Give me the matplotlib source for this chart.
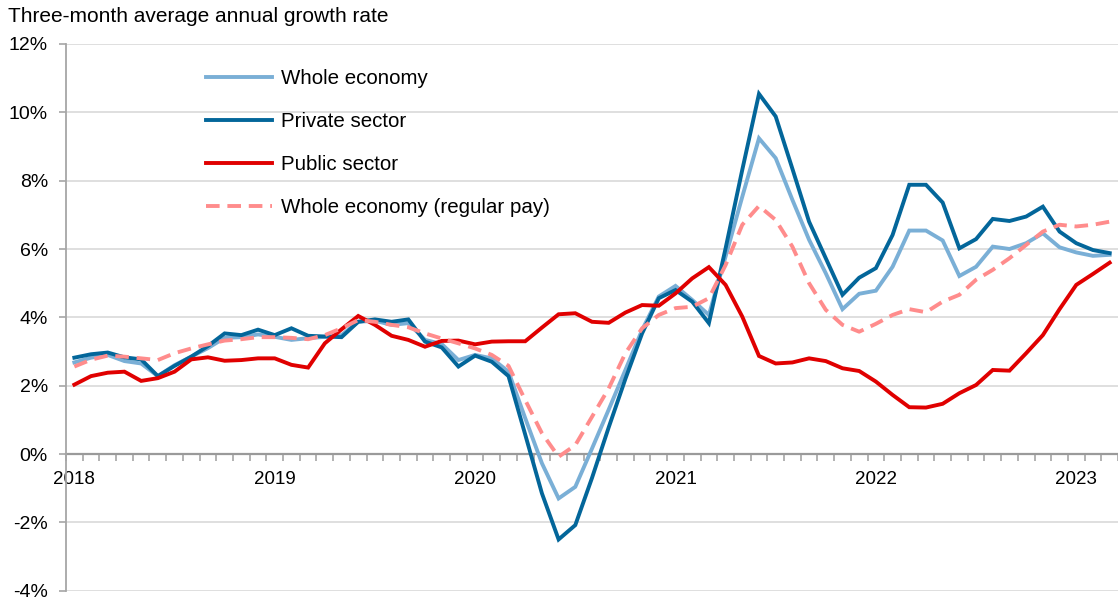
import matplotlib
matplotlib.use("Agg")
import matplotlib.pyplot as plt
import numpy as np

# ---- data (monthly, Jan 2018 - Mar 2023) ----
years = ["2018", "2019", "2020", "2021", "2022", "2023"]
n_months = 63

whole_economy = [2.68, 2.82, 2.90, 2.72, 2.65, 2.28, 2.60, 2.85, 3.10, 3.40, 3.42, 3.50,
                 3.43, 3.34, 3.39, 3.43, 3.48, 3.87, 3.90, 3.78, 3.83, 3.34, 3.22, 2.75,
                 2.90, 2.80, 2.41, 1.05, -0.27, -1.30, -0.96, 0.16, 1.30, 2.46, 3.63, 4.61,
                 4.92, 4.51, 4.07, 5.78, 7.53, 9.24, 8.66, 7.44, 6.27, 5.29, 4.24, 4.69,
                 4.78, 5.48, 6.54, 6.54, 6.25, 5.21, 5.48, 6.07, 6.00, 6.17, 6.46, 6.05,
                 5.90, 5.80, 5.83]

private_sector = [2.82, 2.92, 2.97, 2.83, 2.77, 2.28, 2.58, 2.85, 3.16, 3.53, 3.48, 3.64,
                  3.48, 3.68, 3.46, 3.44, 3.42, 3.87, 3.94, 3.87, 3.94, 3.29, 3.12, 2.56,
                  2.88, 2.70, 2.28, 0.57, -1.15, -2.50, -2.08, -0.70, 0.78, 2.20, 3.53, 4.56,
                  4.80, 4.46, 3.83, 6.02, 8.32, 10.54, 9.88, 8.35, 6.80, 5.73, 4.66, 5.16,
                  5.44, 6.41, 7.88, 7.88, 7.36, 6.02, 6.29, 6.88, 6.82, 6.95, 7.24, 6.51,
                  6.17, 5.97, 5.88]

public_sector = [2.03, 2.28, 2.38, 2.41, 2.14, 2.22, 2.41, 2.77, 2.83, 2.73, 2.75, 2.80,
                 2.80, 2.61, 2.53, 3.24, 3.65, 4.04, 3.78, 3.46, 3.34, 3.14, 3.31, 3.32,
                 3.21, 3.29, 3.30, 3.30, 3.70, 4.09, 4.12, 3.87, 3.84, 4.14, 4.36, 4.34,
                 4.70, 5.14, 5.47, 4.95, 4.02, 2.87, 2.65, 2.68, 2.80, 2.72, 2.51, 2.43,
                 2.12, 1.73, 1.37, 1.36, 1.47, 1.78, 2.02, 2.46, 2.44, 2.95, 3.48, 4.24,
                 4.95, 5.27, 5.60]

regular_pay = [2.56, 2.76, 2.88, 2.85, 2.80, 2.75, 2.95, 3.09, 3.21, 3.32, 3.36, 3.42,
               3.42, 3.40, 3.36, 3.48, 3.68, 3.92, 3.87, 3.78, 3.71, 3.53, 3.38, 3.24,
               3.09, 2.90, 2.58, 1.58, 0.61, -0.08, 0.26, 1.09, 1.92, 2.95, 3.68, 4.07,
               4.27, 4.31, 4.56, 5.53, 6.71, 7.26, 6.85, 6.07, 5.00, 4.22, 3.78, 3.58,
               3.81, 4.07, 4.24, 4.15, 4.46, 4.66, 5.10, 5.39, 5.73, 6.12, 6.51, 6.71,
               6.66, 6.71, 6.80]

y_ticks = [-4, -2, 0, 2, 4, 6, 8, 10, 12]
y_labels = ["-4%", "-2%", "0%", "2%", "4%", "6%", "8%", "10%", "12%"]

# ---- style ----
plt.rcParams['font.family'] = ['Liberation Sans', 'DejaVu Sans']
FS_X = 13.5
FS_Y = 14
FS_LEG = 14.8
FS_TITLE = 15
C_WHOLE = '#7AAFD6'
C_PRIV = '#03669A'
C_PUB = '#E00000'
C_REG = '#FF8C8C'

W, H = 1118, 598
fig = plt.figure(figsize=(W / 100, H / 100), dpi=100)
left_px, top_px, bottom_px = 66, 44, 590.7
month_px = 16.82
ax = fig.add_axes([left_px / W, (H - bottom_px) / H, (W - left_px) / W, (bottom_px - top_px) / H])

x = np.arange(n_months)
lw = 2.8
ax.plot(x, whole_economy, color=C_WHOLE, lw=lw, label='Whole economy', zorder=3, solid_joinstyle='miter')
ax.plot(x, private_sector, color=C_PRIV, lw=lw, label='Private sector', zorder=4, solid_joinstyle='miter')
ax.plot(x, public_sector, color=C_PUB, lw=lw, label='Public sector', zorder=5, solid_joinstyle='miter')
ax.plot(x, regular_pay, color=C_REG, lw=lw, ls=(0, (3.5, 2.0)), label='Whole economy (regular pay)', zorder=6)

ax.set_xlim(-0.5, -0.5 + (W - left_px) / month_px)
ax.set_ylim(-4, 12)

# gridlines
ax.set_yticks(y_ticks)
ax.set_yticklabels(y_labels, fontsize=FS_Y)
ax.yaxis.grid(True, color='#D9D9D9', lw=1.2, zorder=0)
ax.set_axisbelow(True)

# spines
for s in ['top', 'right']:
    ax.spines[s].set_visible(False)
ax.spines['left'].set_color('#A6A6A6')
ax.spines['left'].set_linewidth(1.3)
ax.spines['bottom'].set_position(('data', 0))
ax.spines['bottom'].set_color('#9A9A9A')
ax.spines['bottom'].set_linewidth(1.6)
ax.spines['bottom'].set_zorder(2)

ax.tick_params(axis='y', which='major', length=5, width=1.2, color='#A6A6A6', pad=8, labelsize=FS_Y)

# x ticks: month boundaries (major, no labels), year labels (minor, no tick marks)
ax.set_xticks(np.arange(0, n_months + 1) - 0.5)
ax.set_xticklabels([])
ax.tick_params(axis='x', which='major', direction='out', length=5, width=1.2, color='#A6A6A6')
jan_pos = [12 * i for i in range(len(years))]
ax.set_xticks(jan_pos, minor=True)
ax.set_xticklabels(years, minor=True, fontsize=FS_X)
ax.tick_params(axis='x', which='minor', length=0, pad=12)

# legend
leg = ax.legend(loc='upper left', bbox_to_anchor=((198 - left_px) / (W - left_px), (590.7 - 60.5) / (590.7 - 44)),
                frameon=False, fontsize=FS_LEG, handlelength=3.2, handletextpad=0.45,
                labelspacing=1.17, borderaxespad=0)

fig.text(8 / W, 1 - 17 / H, 'Three-month average annual growth rate', fontsize=FS_TITLE,
         ha='left', va='center')

fig.savefig('out.png', dpi=100)
